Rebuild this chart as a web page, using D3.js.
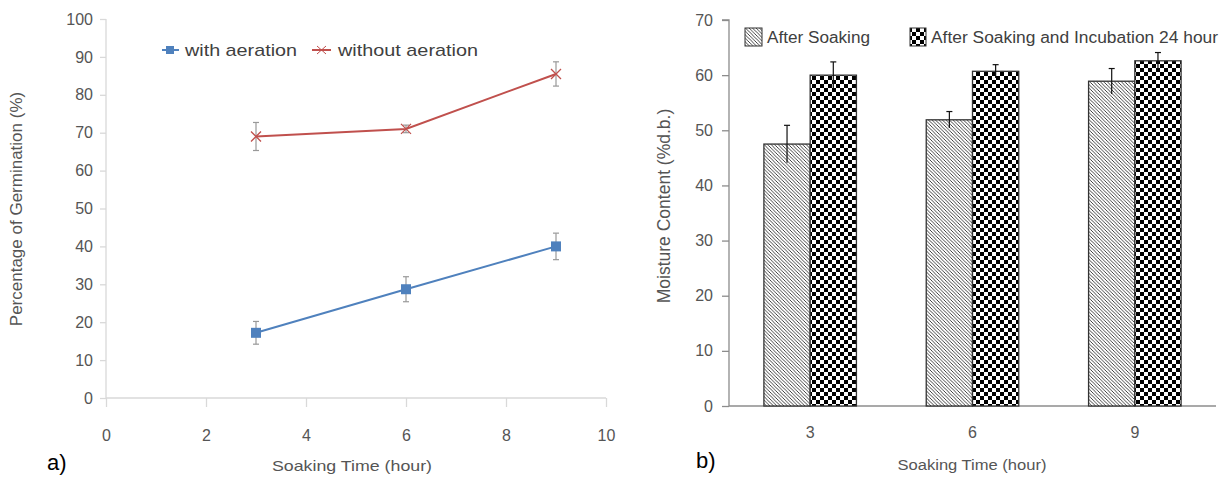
<!DOCTYPE html>
<html><head><meta charset="utf-8">
<script src="https://cdn.jsdelivr.net/npm/d3@7/dist/d3.min.js"></script>
<style>body{margin:0;background:#fff}svg{display:block}</style>
</head><body><svg id="c" width="1227" height="480"></svg>
<script>
// ---- Data: chart a) ----
const hoursA = [3, 6, 9];
const withAeration = [17.2, 28.7, 40.0];
const withAerationErr = [3.0, 3.3, 3.5];
const withoutAeration = [69.0, 71.0, 85.5];
const withoutAerationErr = [3.7, 1.0, 3.2];
const xTicksA = [0, 2, 4, 6, 8, 10];
const yTicksA = [0, 10, 20, 30, 40, 50, 60, 70, 80, 90, 100];
// ---- Data: chart b) ----
const categoriesB = ["3", "6", "9"];
const afterSoaking = [47.5, 51.9, 58.9];
const afterSoakingErr = [3.4, 1.5, 2.3];
const afterIncubation = [60.0, 60.7, 62.6];
const afterIncubationErr = [2.4, 1.2, 1.5];
const yTicksB = [0, 10, 20, 30, 40, 50, 60, 70];

const svg = d3.select("#c");
const defs = svg.append("defs");
// hatch pattern
const hs = 3.5;
const hp = defs.append("pattern").attr("id","hatch").attr("patternUnits","userSpaceOnUse")
  .attr("width",hs).attr("height",hs);
hp.append("rect").attr("width",hs).attr("height",hs).attr("fill","#fff");
hp.append("path").attr("d",`M0,0L${hs},${hs}M-1,${hs-1}L1,${hs+1}M${hs-1},-1L${hs+1},1`).attr("stroke","#222").attr("stroke-width",0.85);
// checker pattern
const cs = 4;
const cp = defs.append("pattern").attr("id","checker").attr("patternUnits","userSpaceOnUse")
  .attr("width",cs*2).attr("height",cs*2);
cp.append("rect").attr("width",cs*2).attr("height",cs*2).attr("fill","#fff");
cp.append("rect").attr("width",cs).attr("height",cs).attr("fill","#000");
cp.append("rect").attr("x",cs).attr("y",cs).attr("width",cs).attr("height",cs).attr("fill","#000");

const font = "Liberation Sans, Arial, sans-serif";
const textCol = "#555";
function txt(g, x, y, s, size, len, col, anchor){
  const t = g.append("text").attr("x",x).attr("y",y).text(s).attr("fill",col||textCol)
    .style("font-family",font).style("font-size",size+"px");
  if(anchor) t.attr("text-anchor",anchor);
  if(len) t.attr("textLength",len).attr("lengthAdjust","spacingAndGlyphs");
  return t;
}

// ================= Chart a =================
const xA = d3.scaleLinear().domain([0,10]).range([106,606]);
const yA = d3.scaleLinear().domain([0,100]).range([398,19]);
const gA = svg.append("g");
const axA = gA.append("g").attr("transform","translate(0,398)")
  .call(d3.axisBottom(xA).tickValues(xTicksA).tickSize(9).tickPadding(23));
const ayA = gA.append("g").attr("transform","translate(106,0)")
  .call(d3.axisLeft(yA).tickValues(yTicksA).tickSize(6).tickPadding(7));
[axA, ayA].forEach(a => {
  a.selectAll("path,line").attr("stroke","#d9d9d9").attr("stroke-width",1.3);
  a.selectAll("text").attr("fill",textCol).style("font-family",font).style("font-size","16px");
});
ayA.select(".domain").attr("d","M0,"+yA(100)+"V"+yA(0));
axA.select(".domain").attr("d","M"+xA(0)+",0H"+xA(10));

function drawSeries(vals, errs, color, marker){
  const pts = hoursA.map((h,i)=>({x:h,y:vals[i],e:errs[i]}));
  gA.append("path").datum(pts).attr("fill","none").attr("stroke",color).attr("stroke-width",2)
    .attr("d", d3.line().x(d=>xA(d.x)).y(d=>yA(d.y)));
  const eb = gA.append("g");
  pts.forEach(d=>{
    const x = xA(d.x);
    eb.append("line").attr("x1",x).attr("x2",x).attr("y1",yA(d.y+d.e)).attr("y2",yA(d.y-d.e)).attr("stroke","#999").attr("stroke-width",1.2);
    [d.y+d.e,d.y-d.e].forEach(v=>eb.append("line").attr("x1",x-3).attr("x2",x+3).attr("y1",yA(v)).attr("y2",yA(v)).attr("stroke","#999").attr("stroke-width",1.2));
    if(marker==="square"){
      gA.append("rect").attr("x",x-5).attr("y",yA(d.y)-5).attr("width",10).attr("height",10).attr("fill",color);
    } else {
      gA.append("path").attr("d",`M${x-5},${yA(d.y)-5}L${x+5},${yA(d.y)+5}M${x-5},${yA(d.y)+5}L${x+5},${yA(d.y)-5}`).attr("stroke",color).attr("stroke-width",1.3);
    }
  });
}
drawSeries(withAeration, withAerationErr, "#4f81bd", "square");
drawSeries(withoutAeration, withoutAerationErr, "#c0504d", "x");

// legend a
const legA = gA.append("g");
legA.append("line").attr("x1",162).attr("x2",179).attr("y1",50).attr("y2",50).attr("stroke","#4f81bd").attr("stroke-width",2);
legA.append("rect").attr("x",166).attr("y",46).attr("width",8).attr("height",8).attr("fill","#4f81bd");
txt(legA,185,56,"with aeration",17,112,"#404040");
legA.append("line").attr("x1",312).attr("x2",331).attr("y1",50).attr("y2",50).attr("stroke","#c0504d").attr("stroke-width",2);
legA.append("path").attr("d","M317,46L326,54M317,54L326,46").attr("stroke","#c0504d").attr("stroke-width",1);
txt(legA,338,56,"without aeration",17,140,"#404040");

gA.append("text").attr("transform","translate(22,209) rotate(-90)").attr("text-anchor","middle")
  .text("Percentage of Germination  (%)").attr("fill",textCol).style("font-family",font).style("font-size","17px");
txt(gA,352,471,"Soaking Time  (hour)",15,160,textCol,"middle");
txt(gA,47,470,"a)",22,null,"#000");

// ================= Chart b =================
const xB = d3.scaleBand().domain(categoriesB).range([729,1216]).paddingInner(0.43).paddingOuter(0.215);
const sub = d3.scaleBand().domain(["s","i"]).range([0,xB.bandwidth()]);
const yB = d3.scaleLinear().domain([0,70]).range([406,20]);
const gB = svg.append("g");
const ayB = gB.append("g").attr("transform","translate(729,0)")
  .call(d3.axisLeft(yB).tickValues(yTicksB).tickSize(7).tickPadding(9));
const axB = gB.append("g").attr("transform","translate(0,406)")
  .call(d3.axisBottom(xB).tickSize(0).tickPadding(21));
[axB, ayB].forEach(a => {
  a.selectAll("path,line").attr("stroke","#8c8c8c").attr("stroke-width",1.3);
  a.selectAll("text").attr("fill",textCol).style("font-family",font).style("font-size","16px");
});
ayB.select(".domain").attr("d","M-7,"+yB(70)+"H0V"+yB(0));
axB.select(".domain").attr("d","M729,0H1216");

const series = [
  {key:"s", vals:afterSoaking, errs:afterSoakingErr, fill:"url(#hatch)"},
  {key:"i", vals:afterIncubation, errs:afterIncubationErr, fill:"url(#checker)"}
];
series.forEach(s=>{
  categoriesB.forEach((c,i)=>{
    const x = xB(c)+sub(s.key);
    gB.append("rect").attr("x",x).attr("y",yB(s.vals[i])).attr("width",sub.bandwidth()).attr("height",yB(0)-yB(s.vals[i]))
      .attr("fill",s.fill).attr("stroke","#333").attr("stroke-width",1.3);
  });
});
series.forEach(s=>{
  categoriesB.forEach((c,i)=>{
    const cx = xB(c)+sub(s.key)+sub.bandwidth()/2;
    const t = yB(s.vals[i]+s.errs[i]), b = yB(s.vals[i]-s.errs[i]);
    gB.append("line").attr("x1",cx).attr("x2",cx).attr("y1",t).attr("y2",b).attr("stroke","#111").attr("stroke-width",1.2);
    gB.append("line").attr("x1",cx-3).attr("x2",cx+3).attr("y1",t).attr("y2",t).attr("stroke","#111").attr("stroke-width",1.2);
  });
});
// legend b
const legB = gB.append("g");
legB.append("rect").attr("x",745).attr("y",28).attr("width",17).attr("height",18).attr("fill","url(#hatch)").attr("stroke","#333");
txt(legB,767,43,"After Soaking",16,103,"#404040");
legB.append("rect").attr("x",910).attr("y",28).attr("width",16).attr("height",18).attr("fill","url(#checker)").attr("stroke","#333");
txt(legB,931,43,"After Soaking and Incubation 24 hour",16,287,"#404040");

gB.append("text").attr("transform","translate(670,206) rotate(-90)").attr("text-anchor","middle")
  .text("Moisture Content (%d.b.)").attr("fill",textCol).style("font-family",font).style("font-size","17.5px");
txt(gB,972,470,"Soaking Time (hour)",15.5,149,textCol,"middle");
txt(gB,696,468,"b)",22,null,"#000");
</script></body></html>
